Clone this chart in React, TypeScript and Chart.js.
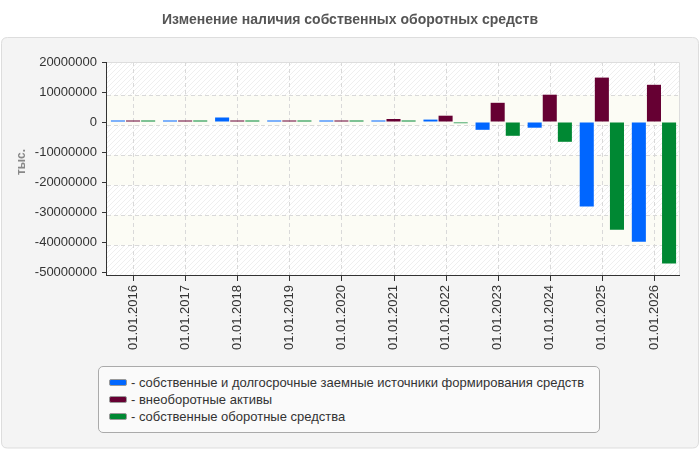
import React, { useEffect, useRef } from "react";
import { Chart, registerables } from "chart.js";

Chart.register(...registerables);

const TITLE = "Изменение наличия собственных оборотных средств";
const Y_TITLE = "тыс.";
const CATEGORIES = [
  "01.01.2016", "01.01.2017", "01.01.2018", "01.01.2019", "01.01.2020", "01.01.2021",
  "01.01.2022", "01.01.2023", "01.01.2024", "01.01.2025", "01.01.2026",
];
const SERIES_NAMES = [
  "собственные и долгосрочные заемные источники формирования средств",
  "внеоборотные активы",
  "собственные оборотные средства",
];
const SOURCES = [500000, 500000, 1500000, 500000, 500000, 500000, 800000, -2600000, -1900000, -28200000, -39900000];
const NONCURRENT = [500000, 500000, 500000, 500000, 500000, 1000000, 2100000, 6400000, 9100000, 14800000, 12400000];
const WORKING = [500000, 500000, 500000, 500000, 500000, 500000, -400000, -4600000, -6600000, -35900000, -47200000];
const COLORS = ["#0066ff", "#660033", "#008833"];
const Y_MIN = -50000000;
const Y_MAX = 20000000;
const Y_STEP = 10000000;

const FONT = "'Liberation Sans', Arial, sans-serif";
const GRID_SHIFT = 3;

function makeHatch(ctx: CanvasRenderingContext2D) {
  const c = document.createElement("canvas");
  c.width = 5;
  c.height = 5;
  const p = c.getContext("2d")!;
  p.fillStyle = "#ffffff";
  p.fillRect(0, 0, 5, 5);
  p.strokeStyle = "#efefef";
  p.lineWidth = 1;
  p.beginPath();
  p.moveTo(-1, 6);
  p.lineTo(6, -1);
  p.moveTo(-6, 6);
  p.lineTo(1, -1);
  p.moveTo(4, 6);
  p.lineTo(11, -1);
  p.stroke();
  return ctx.createPattern(c, "repeat");
}

function roundRect(ctx: CanvasRenderingContext2D, x: number, y: number, w: number, h: number, r: number) {
  ctx.beginPath();
  ctx.moveTo(x + r, y);
  ctx.lineTo(x + w - r, y);
  ctx.quadraticCurveTo(x + w, y, x + w, y + r);
  ctx.lineTo(x + w, y + h - r);
  ctx.quadraticCurveTo(x + w, y + h, x + w - r, y + h);
  ctx.lineTo(x + r, y + h);
  ctx.quadraticCurveTo(x, y + h, x, y + h - r);
  ctx.lineTo(x, y + r);
  ctx.quadraticCurveTo(x, y, x + r, y);
  ctx.closePath();
}

const decorPlugin = {
  id: "decor",
  beforeDraw(chart: any) {
    const { ctx, chartArea: a, scales } = chart;
    const ys = scales.y;
    const xs = scales.x;
    ctx.save();
    ctx.fillStyle = "#ffffff";
    ctx.fillRect(0, 0, chart.width, chart.height);
    roundRect(ctx, 1.5, 37.5, 697, 410.5, 6);
    ctx.fillStyle = "#f4f4f4";
    ctx.fill();
    ctx.strokeStyle = "#dddddd";
    ctx.lineWidth = 1;
    ctx.stroke();

    ctx.font = "bold 14px " + FONT;
    ctx.fillStyle = "#555555";
    ctx.textAlign = "center";
    ctx.textBaseline = "middle";
    ctx.fillText(TITLE, 350, 20);

    const left = Math.round(a.left);
    const right = Math.round(a.right);
    const top = Math.round(a.top);
    const bottom = Math.round(a.bottom) + GRID_SHIFT;
    const lines: number[] = [];
    ys.ticks.forEach((t: any) => {
      if (t.value < Y_MAX && t.value > Y_MIN) lines.push(Math.round(ys.getPixelForValue(t.value)) + GRID_SHIFT);
    });
    lines.sort((p, q) => p - q);
    const bounds = [top, ...lines, bottom];
    const hatch = makeHatch(ctx);
    for (let i = 0; i < bounds.length - 1; i++) {
      ctx.fillStyle = i % 2 === 0 ? (hatch as any) : "#fcfcf5";
      ctx.fillRect(left, bounds[i], right - left, bounds[i + 1] - bounds[i]);
    }
    ctx.strokeStyle = "#d9d9d9";
    ctx.setLineDash([4, 3]);
    ctx.beginPath();
    lines.forEach((y) => {
      ctx.moveTo(left, y + 0.5);
      ctx.lineTo(right, y + 0.5);
    });
    CATEGORIES.forEach((_, i) => {
      const x = Math.round(xs.getPixelForTick(i)) + 0.5;
      ctx.moveTo(x, top);
      ctx.lineTo(x, bottom);
    });
    ctx.stroke();
    ctx.setLineDash([]);
    ctx.strokeStyle = "#dddddd";
    ctx.beginPath();
    ctx.moveTo(left, top + 0.5);
    ctx.lineTo(right - 0.5, top + 0.5);
    ctx.lineTo(right - 0.5, bottom);
    ctx.stroke();

    ctx.translate(22, 162);
    ctx.rotate(-Math.PI / 2);
    ctx.font = "bold 12px " + FONT;
    ctx.fillStyle = "#888888";
    ctx.textAlign = "center";
    ctx.textBaseline = "middle";
    ctx.fillText(Y_TITLE, 0, 0);
    ctx.restore();
  },
  afterDraw(chart: any) {
    const { ctx, chartArea: a, scales } = chart;
    const xs = scales.x;
    const left = Math.round(a.left);
    const right = Math.round(a.right);
    const top = Math.round(a.top);
    const bottom = Math.round(a.bottom) + GRID_SHIFT;
    ctx.save();
    ctx.strokeStyle = "#333333";
    ctx.lineWidth = 1;
    ctx.beginPath();
    ctx.moveTo(left - 0.5, top);
    ctx.lineTo(left - 0.5, bottom + 1);
    ctx.moveTo(left - 1, bottom + 0.5);
    ctx.lineTo(right, bottom + 0.5);
    CATEGORIES.forEach((_, i) => {
      const x = Math.round(xs.getPixelForTick(i)) + 0.5;
      ctx.moveTo(x, bottom);
      ctx.lineTo(x, bottom + 6);
    });
    ctx.stroke();
    ctx.restore();
  },
};

export default function App() {
  const ref = useRef<HTMLCanvasElement>(null);
  useEffect(() => {
    document.body.style.margin = "0";
    const chart = new Chart(ref.current!, {
      type: "bar",
      data: {
        labels: CATEGORIES,
        datasets: [SOURCES, NONCURRENT, WORKING].map((d, i) => ({
          label: SERIES_NAMES[i],
          data: d,
          backgroundColor: COLORS[i],
          borderWidth: 0,
          categoryPercentage: 0.87,
          barPercentage: 0.93,
        })),
      },
      options: {
        responsive: false,
        animation: false,
        layout: { padding: { top: 62, right: 20, left: 0, bottom: 0 } },
        plugins: { legend: { display: false }, tooltip: { enabled: false }, title: { display: false } },
        scales: {
          x: {
            grid: { display: false, drawTicks: false },
            border: { display: false },
            ticks: {
              autoSkip: false,
              maxRotation: 90,
              minRotation: 90,
              padding: 13,
              color: "#333333",
              font: { family: FONT, size: 13 },
            },
            afterFit: (s: any) => {
              s.height = 178;
            },
          },
          y: {
            min: Y_MIN,
            max: Y_MAX,
            grid: { drawOnChartArea: false, drawTicks: true, tickLength: 5, color: "#333333", tickColor: "#333333" },
            border: { display: false },
            ticks: {
              stepSize: Y_STEP,
              padding: 5,
              color: "#333333",
              font: { family: FONT, size: 13 },
              callback: (v: any) => String(v),
            },
            afterFit: (s: any) => {
              s.width = 107;
            },
          },
        },
      },
      plugins: [decorPlugin],
    });
    return () => chart.destroy();
  }, []);

  return (
    <div style={{ position: "absolute", left: 0, top: 0, width: 700, height: 450 }}>
      <canvas ref={ref} width={700} height={450} style={{ display: "block" }} />
      <div
        style={{
          position: "absolute",
          left: 98,
          top: 366,
          width: 502,
          height: 67,
          boxSizing: "border-box",
          background: "#fafafa",
          border: "1px solid #aaaaaa",
          borderRadius: 5,
        }}
      />
      {SERIES_NAMES.map((name, i) => (
        <div
          key={name}
          style={{
            position: "absolute",
            left: 109,
            top: 374 + i * 17,
            height: 17,
            display: "flex",
            alignItems: "center",
            fontFamily: FONT,
            fontSize: 13,
            color: "#333333",
            whiteSpace: "nowrap",
          }}
        >
          <span
            style={{
              display: "inline-block",
              width: 18,
              height: 7,
              boxSizing: "border-box",
              background: COLORS[i],
              border: "1px solid #999999",
              borderRadius: 2,
              marginRight: 4,
            }}
          />
          <span>- {name}</span>
        </div>
      ))}
    </div>
  );
}
